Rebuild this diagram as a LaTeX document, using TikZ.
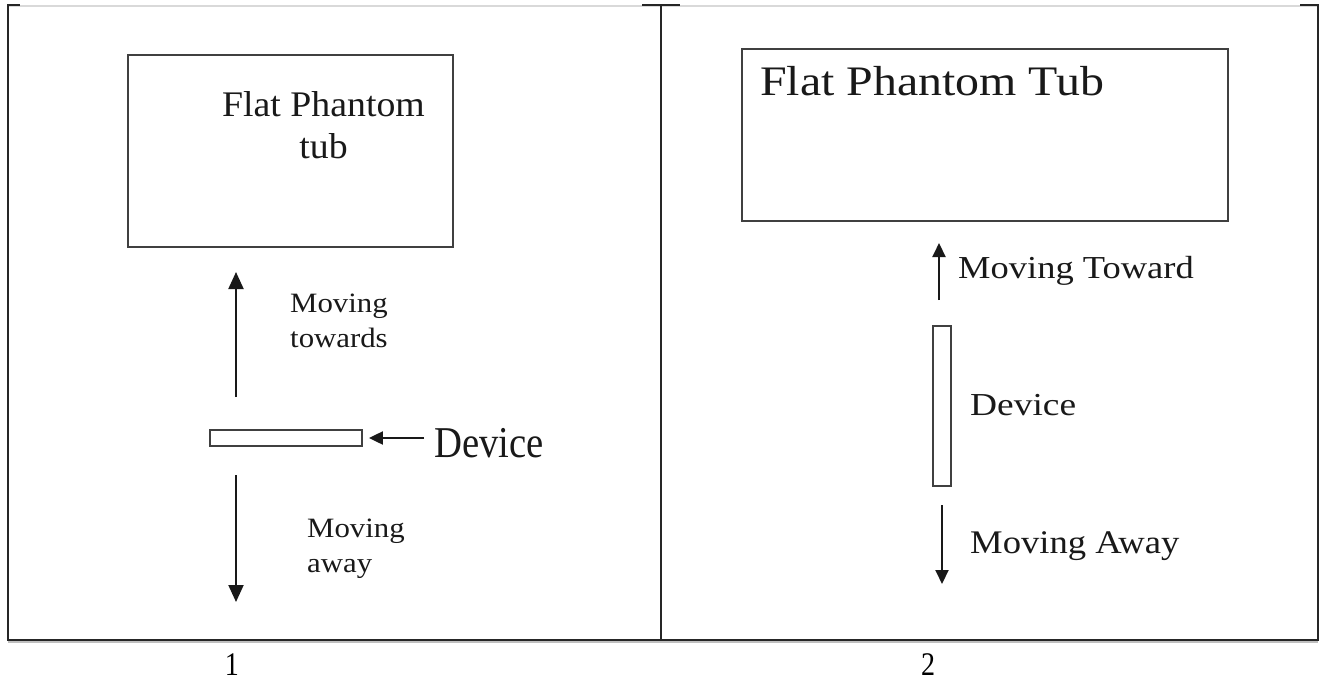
\documentclass[tikz,border=0pt]{standalone}
\usepackage{fontspec}
\setmainfont{Liberation Serif}
\usetikzlibrary{arrows.meta}
\begin{document}
\begin{tikzpicture}[x=1pt,y=-1pt,
  frame/.style={line width=2pt, draw=black!85},
  box/.style={draw=black!75, line width=1.8pt, rectangle, inner sep=0pt},
  arrbig/.style={line width=2pt, draw=black!90, -{Triangle[length=17pt,width=15pt]}},
  arrsmall/.style={line width=2pt, draw=black!90, -{Triangle[length=14pt,width=13pt]}},
  txt/.style={inner sep=0pt, text=black!90, anchor=base west}]
\fill[white] (0,0) rectangle (1327,682);
\useasboundingbox (0,0) rectangle (1327,682);
% table frame
\draw[line width=2pt, black!15] (8,6) -- (1318,6);
\draw[line width=1.5pt, black!25] (8,642) -- (1318,642);
\draw[frame] (8,5) -- (8,640) -- (1318,640) -- (1318,5);
\draw[frame] (661,5) -- (661,640);
\draw[frame] (7,5) -- (20,5);
\draw[frame] (642,5) -- (680,5);
\draw[frame] (1300,5) -- (1319,5);
% panel 1
\node[box, minimum width=325pt, minimum height=192pt] (tubA) at (290.5,151) {};
\node[inner sep=0pt, anchor=base, text=black!90] (tubAt1) at (323.5,117) {\fontsize{36}{40}\selectfont\scalebox{1.05}[1]{Flat Phantom}};
\node[inner sep=0pt, anchor=base, text=black!90] (tubAt2) at (323.5,158) {\fontsize{36}{40}\selectfont\scalebox{1.05}[1]{tub}};
\node[box, minimum width=152pt, minimum height=16pt] (devA) at (286,438) {};
\coordinate (upAs) at (236,397);
\coordinate (upAe) at (236,272);
\coordinate (dnAs) at (236,475);
\coordinate (dnAe) at (236,602);
\coordinate (devAarr) at (424,438);
\draw[arrbig] (upAs) -- (upAe);
\draw[arrbig] (dnAs) -- (dnAe);
\draw[arrsmall] (devAarr) -- ([xshift=6pt]devA.east);
\node[txt] (towA1) at (290,312) {\fontsize{28}{32}\selectfont\scalebox{1.1}[1]{Moving}};
\node[txt] (towA2) at (290,347) {\fontsize{28}{32}\selectfont\scalebox{1.1}[1]{towards}};
\node[txt] (awA1) at (307,537) {\fontsize{28}{32}\selectfont\scalebox{1.1}[1]{Moving}};
\node[txt] (awA2) at (307,572) {\fontsize{28}{32}\selectfont\scalebox{1.1}[1]{away}};
\node[txt] (devAt) at (434,457) {\fontsize{44}{48}\selectfont\scalebox{0.88}[1]{Device}};
% panel 2
\node[box, minimum width=486pt, minimum height=172pt] (tubB) at (985,135) {};
\node[txt] (tubBt) at (760,96) {\fontsize{42}{46}\selectfont\scalebox{1.14}[1]{Flat Phantom Tub}};
\node[box, minimum width=18pt, minimum height=160pt] (devB) at (942,406) {};
\coordinate (upBs) at (939,300);
\coordinate (upBe) at (939,243);
\coordinate (dnBs) at (942,505);
\coordinate (dnBe) at (942,584);
\draw[arrsmall] (upBs) -- (upBe);
\draw[arrsmall] (dnBs) -- (dnBe);
\node[txt] (towB) at (958,278) {\fontsize{32}{36}\selectfont\scalebox{1.14}[1]{Moving Toward}};
\node[txt] (devBt) at (970,415) {\fontsize{32}{36}\selectfont\scalebox{1.17}[1]{Device}};
\node[txt] (awB) at (970,553) {\fontsize{33}{37}\selectfont\scalebox{1.11}[1]{Moving Away}};
% captions
\node[inner sep=0pt, anchor=base, text=black] (capA) at (232,675) {\fontsize{33}{36}\selectfont\scalebox{0.85}[1]{1}};
\node[inner sep=0pt, anchor=base, text=black] (capB) at (928,675) {\fontsize{33}{36}\selectfont\scalebox{0.85}[1]{2}};
\end{tikzpicture}
\end{document}
